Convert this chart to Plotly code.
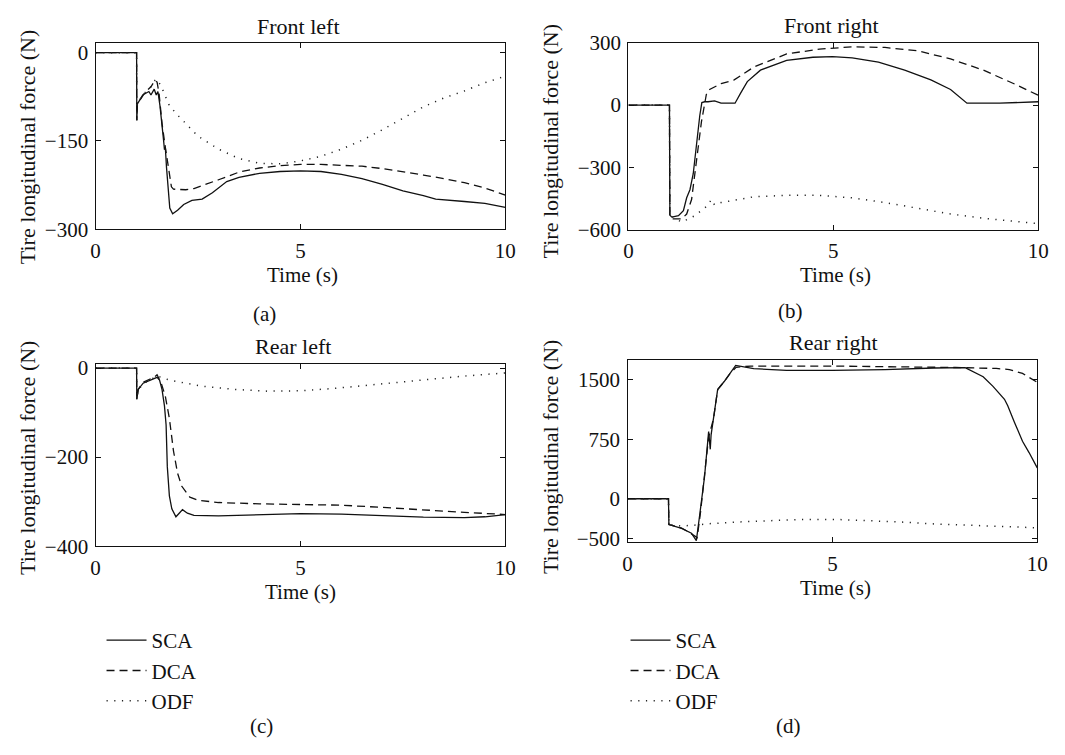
import plotly.graph_objects as go

W, H = 1065, 755

# ---------------- data ----------------
# (a) Front left
t_sca_a = [0, 1.0, 1.005, 1.02, 1.15, 1.3, 1.35, 1.43, 1.48, 1.52, 1.57, 1.63, 1.66, 1.68, 1.70, 1.73, 1.77, 1.81, 1.88, 2.0, 2.15, 2.35, 2.6, 2.85, 3.2, 3.5, 4.0, 4.5, 5.0, 5.5, 6.0, 6.5, 7.0, 7.5, 8.0, 8.3, 9.0, 9.5, 10.0]
f_sca_a = [0, 0, -115, -87, -72, -66, -72, -62, -72, -66, -90, -140, -150, -165, -160, -195, -238, -264, -274, -268, -258, -251, -249, -238, -219, -212, -205, -202, -201, -202, -207, -214, -224, -235, -243, -249, -253, -256, -263]
t_dca_a = [0, 1.0, 1.005, 1.02, 1.2, 1.35, 1.45, 1.5, 1.55, 1.62, 1.7, 1.78, 1.85, 1.9, 2.0, 2.2, 2.4, 2.7, 3.0, 3.5, 4.0, 4.5, 5.0, 5.5, 6.0, 6.5, 7.0, 7.5, 8.0, 8.5, 9.0, 9.5, 10.0]
f_dca_a = [0, 0, -115, -87, -68, -58, -47, -50, -70, -120, -160, -200, -228, -232, -232, -233, -231, -224, -216, -203, -196, -192, -190, -190, -191, -193, -197, -202, -208, -214, -221, -230, -242]
t_odf_a = [0, 1.0, 1.005, 1.02, 1.2, 1.35, 1.45, 1.5, 1.6, 1.8, 2.0, 2.5, 3.0, 3.5, 4.0, 4.5, 5.0, 5.5, 6.0, 6.5, 7.0, 7.5, 8.0, 8.5, 9.0, 9.5, 10.0]
f_odf_a = [0, 0, -115, -85, -68, -58, -47, -45, -57, -90, -106, -142, -164, -180, -188, -189, -184, -176, -164, -149, -131, -111, -92, -77, -65, -51, -40]

# (b) Front right
t_sca_b = [0, 1.0, 1.01, 1.06, 1.22, 1.34, 1.42, 1.5, 1.58, 1.66, 1.74, 1.79, 1.86, 1.94, 2.1, 2.26, 2.6, 2.74, 2.9, 3.22, 3.86, 4.5, 4.98, 5.46, 6.1, 6.74, 7.38, 7.86, 8.26, 9.06, 10.0]
f_sca_b = [0, 0, -530, -539, -532, -508, -446, -407, -330, -174, -50, 12, 16, 16, 20, 9, 9, 59, 113, 168, 215, 230, 233, 227, 207, 168, 121, 75, 9, 9, 16]
t_dca_b = [0, 1.0, 1.01, 1.06, 1.3, 1.42, 1.54, 1.66, 1.78, 1.9, 1.98, 2.26, 2.58, 3.06, 3.86, 4.66, 5.46, 6.26, 7.06, 7.86, 8.66, 9.46, 10.0]
f_dca_b = [0, 0, -530, -547, -547, -524, -454, -252, -81, 51, 75, 103, 121, 183, 246, 269, 280, 277, 261, 222, 168, 98, 47]
t_odf_b = [0, 1.0, 1.01, 1.3, 1.62, 1.94, 2.02, 2.1, 2.26, 2.66, 3.06, 3.86, 4.66, 5.46, 6.26, 7.06, 7.86, 8.66, 9.46, 10.0]
f_odf_b = [0, 0, -530, -563, -532, -482, -454, -480, -469, -454, -441, -434, -434, -446, -469, -496, -524, -544, -560, -570]

# (c) Rear left
t_sca_c = [0, 1.0, 1.005, 1.04, 1.16, 1.32, 1.44, 1.5, 1.56, 1.62, 1.68, 1.72, 1.75, 1.8, 1.86, 1.96, 2.04, 2.12, 2.24, 2.4, 3.0, 4.0, 5.0, 6.0, 7.0, 8.0, 9.0, 9.5, 10.0]
f_sca_c = [0, 0, -70, -48, -34, -28, -25, -21, -27, -48, -85, -128, -222, -287, -316, -334, -326, -318, -326, -331, -332, -330, -327, -328, -331, -335, -336, -334, -329]
t_dca_c = [0, 1.0, 1.005, 1.04, 1.16, 1.32, 1.44, 1.5, 1.6, 1.7, 1.8, 1.9, 2.0, 2.1, 2.3, 2.5, 3.0, 4.0, 5.0, 6.0, 7.0, 8.0, 9.0, 10.0]
f_dca_c = [0, 0, -70, -48, -32, -25, -20, -15, -34, -63, -113, -186, -236, -265, -290, -297, -302, -305, -306, -308, -313, -319, -324, -329]
t_odf_c = [0, 1.0, 1.005, 1.04, 1.2, 1.4, 1.5, 1.8, 2.6, 3.4, 4.2, 5.0, 5.8, 6.6, 7.4, 8.2, 9.0, 10.0]
f_odf_c = [0, 0, -70, -48, -33, -24, -18, -27, -41, -48, -52, -51, -46, -39, -32, -25, -18, -11]

# (d) Rear right
t_sca_d = [0, 1.0, 1.01, 1.32, 1.56, 1.68, 1.76, 1.88, 1.98, 2.02, 2.04, 2.1, 2.2, 2.36, 2.52, 2.64, 3.08, 3.88, 5.0, 6.28, 7.48, 8.24, 8.68, 8.92, 9.2, 9.28, 9.44, 9.64, 9.8, 10.0]
f_sca_d = [0, 0, -326, -375, -436, -530, -212, 277, 848, 624, 807, 1011, 1378, 1480, 1602, 1684, 1643, 1622, 1622, 1631, 1651, 1655, 1541, 1419, 1256, 1174, 970, 726, 583, 390]
t_dca_d = [0, 1.0, 1.01, 1.32, 1.48, 1.64, 1.70, 1.78, 1.88, 1.98, 2.1, 2.2, 2.36, 2.5, 2.65, 3.0, 5.0, 7.0, 8.0, 9.0, 9.32, 9.64, 9.84, 10.0]
f_dca_d = [0, 0, -326, -370, -416, -477, -490, -180, 277, 780, 1011, 1378, 1480, 1580, 1660, 1675, 1675, 1665, 1657, 1645, 1631, 1582, 1520, 1470]
t_odf_d = [0, 1.0, 1.01, 1.3, 1.6, 2.04, 2.68, 3.48, 4.28, 5.08, 5.88, 6.68, 7.48, 8.28, 9.08, 10.0]
f_odf_d = [0, 0, -326, -345, -335, -314, -294, -273, -261, -261, -273, -294, -318, -334, -351, -367]

series_names = ["SCA", "DCA", "ODF"]
panel_titles = ["Front left", "Front right", "Rear left", "Rear right"]
panel_labels = ["(a)", "(b)", "(c)", "(d)"]
x_ticks = [0, 5, 10]
y_ticks = [[-300, -150, 0], [-600, -300, 0, 300], [-400, -200, 0], [-500, 0, 750, 1500]]
y_ranges = [[-300, 17], [-600, 300], [-400, 9.6], [-550, 1757]]

panels = [
    [(t_sca_a, f_sca_a), (t_dca_a, f_dca_a), (t_odf_a, f_odf_a)],
    [(t_sca_b, f_sca_b), (t_dca_b, f_dca_b), (t_odf_b, f_odf_b)],
    [(t_sca_c, f_sca_c), (t_dca_c, f_dca_c), (t_odf_c, f_odf_c)],
    [(t_sca_d, f_sca_d), (t_dca_d, f_dca_d), (t_odf_d, f_odf_d)],
]

# ---------------- layout geometry (pixels) ----------------
boxes = [  # left, right, top, bottom
    (92, 508, 31.7, 224.3),
    (633, 1049, 31.7, 225),
    (92, 508, 363.3, 551.7),
    (632, 1048, 359, 547.7),
]

FONT = "Liberation Serif, Times New Roman, serif"
INK = "#111111"
styles = [
    dict(color=INK, width=1.3, dash="solid"),
    dict(color=INK, width=1.3, dash="8px,5px"),
    dict(color="#222222", width=1.5, dash="1.2px,6.5px"),
]

fig = go.Figure()
for p, series in enumerate(panels):
    ax = "" if p == 0 else str(p + 1)
    for s, (tt, ff) in enumerate(series):
        legend_name = None
        show = False
        if p == 2:
            legend_name, show = "legend", True
        elif p == 3:
            legend_name, show = "legend2", True
        kw = dict(x=tt, y=ff, mode="lines", name=series_names[s], line=styles[s],
                  xaxis="x" + ax, yaxis="y" + ax, showlegend=show, hoverinfo="skip")
        if legend_name:
            kw["legend"] = legend_name
        fig.add_trace(go.Scatter(**kw))

layout = dict(
    width=W, height=H, margin=dict(l=0, r=0, t=0, b=0),
    paper_bgcolor="white", plot_bgcolor="white",
    font=dict(family=FONT, size=21, color=INK),
)

axis_common = dict(showgrid=False, zeroline=False, showline=True, linecolor=INK,
                   linewidth=1.4, mirror="ticks", ticks="inside", ticklen=5,
                   tickwidth=1.2, tickcolor=INK,
                   tickfont=dict(family=FONT, size=21, color=INK))

annotations = []
for p in range(4):
    l, r, t, b = boxes[p]
    ax = "" if p == 0 else str(p + 1)
    layout["xaxis" + ax] = dict(axis_common, domain=[l / W, r / W], range=[0, 10],
                                tickvals=x_ticks, anchor="y" + ax, ticklabelstandoff=2)
    layout["yaxis" + ax] = dict(axis_common, domain=[1 - b / H, 1 - t / H], range=y_ranges[p],
                                tickvals=y_ticks[p], anchor="x" + ax, ticklabelstandoff=2)

def ann(text, px, py, size=21, angle=0):
    annotations.append(dict(text=text, x=px / W, y=1 - py / H, xref="paper", yref="paper",
                            showarrow=False, xanchor="center", yanchor="middle",
                            textangle=angle, font=dict(family=FONT, size=size, color=INK)))

title_pos = [(298, 15), (839, 14), (292, 345), (841, 341)]
xtitle_pos = [(302, 272), (843, 272), (300, 599), (843, 595)]
ytitle_pos = [(23, 140), (554, 134), (23, 461), (554, 460)]
label_pos = [(263, 312), (797, 309), (260, 737), (795, 737)]
for p in range(4):
    ann(panel_titles[p], *title_pos[p], size=22)
    ann("Time (s)", *xtitle_pos[p], size=21)
    ann("Tire longitudinal force (N)", *ytitle_pos[p], size=22, angle=-90)
    ann(panel_labels[p], *label_pos[p], size=21)

layout["annotations"] = annotations
leg_common = dict(bgcolor="rgba(0,0,0,0)", borderwidth=0, xanchor="left", yanchor="top",
                  font=dict(family=FONT, size=21, color=INK), itemwidth=40,
                  tracegroupgap=0)
layout["legend"] = dict(leg_common, x=98 / W, y=1 - 628 / H)
layout["legend2"] = dict(leg_common, x=630 / W, y=1 - 628 / H)

fig.update_layout(**layout)
fig.write_html("out.html")
